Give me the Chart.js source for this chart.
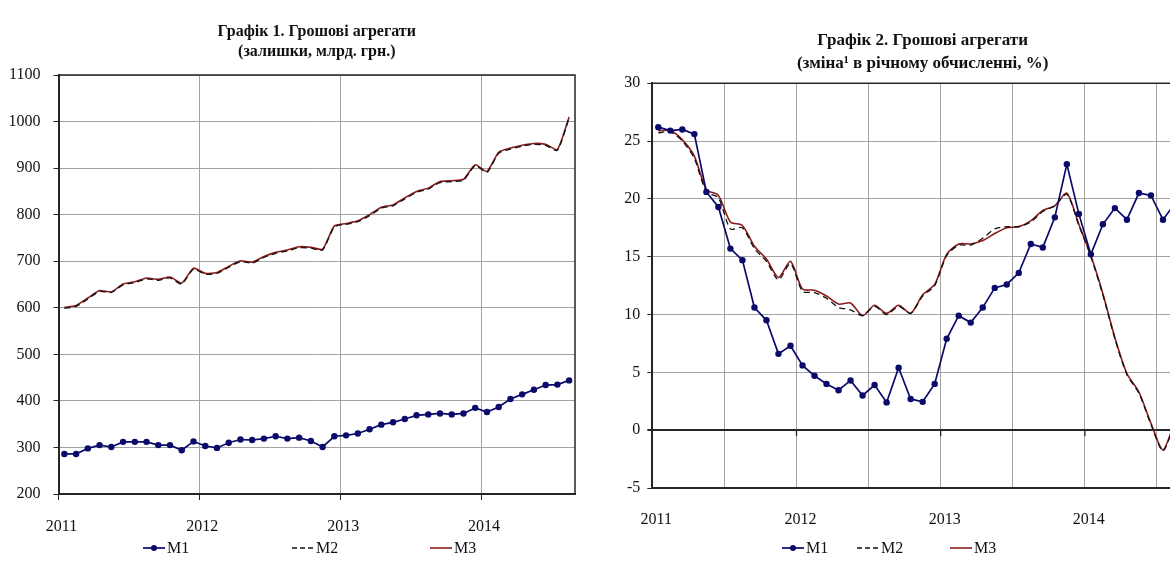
<!DOCTYPE html>
<html>
<head>
<meta charset="utf-8">
<script src="https://cdn.jsdelivr.net/npm/chart.js@4.4.1/dist/chart.umd.min.js"></script>
<style>
  html, body { margin: 0; padding: 0; background: #ffffff; overflow: hidden; width: 1170px; height: 577px; }
  #w1 { position: absolute; left: 0; top: 0; width: 590px; height: 577px; }
  #w2 { position: absolute; left: 590px; top: 0; width: 612px; height: 577px; }
</style>
</head>
<body>
<div id="w1"><canvas id="c1"></canvas></div>
<div id="w2"><canvas id="c2"></canvas></div>
<script>
// ---- categories: months from Jan 2011 to Aug 2014 ----
const firstYear = 2011;
const months = [];
for (let y = 2011; y <= 2014; y++) {
  for (let m = 1; m <= 12; m++) {
    if (y === 2014 && m > 8) break;
    months.push(y + '-' + String(m).padStart(2, '0'));
  }
}
const yearTicks = [2011, 2012, 2013, 2014];

// ---- Chart 1: stocks, bn UAH ----
const title1 = ['Графік 1. Грошові агрегати', '(залишки, млрд. грн.)'];
const stockM1 = [286,286,298,305,301,312,312,312,305,305,294,313,303,299,310,317,316,319,324,319,321,314,301,324,
                 326,330,339,349,354,361,369,371,373,371,373,385,376,387,404,414,424,434,435,444];
const stockM2 = [599,603,619,635,633,649,654,662,659,664,651,683,672,674,687,699,696,708,717,722,729,728,724,774,
                 779,785,798,814,819,834,848,855,869,871,874,905,891,932,941,947,951,949,938,1008];
const stockM3 = [601,605,621,637,634,651,656,664,661,666,653,685,674,676,689,701,698,710,719,724,731,730,726,776,
                 781,787,800,816,821,836,850,857,871,873,876,907,893,934,943,949,953,951,940,1010];
const yTicks1 = [200,300,400,500,600,700,800,900,1000,1100];

// ---- Chart 2: annual change, % ----
const title2 = ['Графік 2. Грошові агрегати', '(зміна¹ в річному обчисленні, %)'];
const growthM1 = [26.2,25.9,26.0,25.6,20.6,19.3,15.7,14.7,10.6,9.5,6.6,7.3,5.6,4.7,4.0,3.45,4.3,3.0,3.9,2.4,5.4,2.7,2.45,4.0,
                  7.9,9.9,9.3,10.6,12.3,12.6,13.6,16.1,15.8,18.4,23.0,18.7,15.2,17.8,19.2,18.2,20.5,20.3,18.2,19.6];
const growthM2 = [25.7,25.8,25.0,23.5,20.6,20.1,17.4,17.5,15.7,14.6,13.0,14.4,12.0,11.9,11.4,10.6,10.4,9.9,10.7,10.0,10.7,10.1,11.6,12.5,
                  15.1,16.0,16.0,16.6,17.4,17.6,17.6,18.0,18.9,19.4,20.4,17.7,15.0,11.7,7.9,4.8,3.2,0.5,-1.8,0.7];
const growthM3 = [25.9,25.9,25.1,23.7,20.8,20.3,18.0,17.7,15.9,14.8,13.2,14.6,12.2,12.1,11.6,10.9,11.0,9.9,10.8,10.1,10.8,10.1,11.7,12.6,
                  15.2,16.1,16.1,16.4,17.0,17.5,17.6,18.1,19.0,19.4,20.5,17.8,15.1,11.8,8.0,4.9,3.3,0.6,-1.7,0.8];
const yTicks2 = [-5,0,5,10,15,20,25,30];

const seriesNames = ['M1', 'M2', 'M3'];

// month string -> position on a continuous month axis (value plotted mid-month)
function monthPos(s) {
  const [y, m] = s.split('-').map(Number);
  return (y - firstYear) * 12 + (m - 1) + 0.5;
}
function pts(arr) { return arr.map((v, i) => ({ x: monthPos(months[i]), y: v })); }

const FONT = "'Liberation Serif', 'Times New Roman', serif";
const COL_M1 = '#0a0a6a';
const COL_M2 = '#111111';
const COL_M3 = '#8b1c1c';
const GRID = '#a3a3a3';
const AXIS = '#262626';

function makeDatasets(a1, a2, a3, tension) {
  return [
    { label: seriesNames[0], data: pts(a1), borderColor: COL_M1, backgroundColor: COL_M1, borderWidth: 1.7,
      pointRadius: 3.2, pointBorderWidth: 0, pointBackgroundColor: COL_M1, tension: 0 },
    { label: seriesNames[1], data: pts(a2), borderColor: COL_M2, borderWidth: 1.3, borderDash: [6, 4],
      pointRadius: 0, tension: tension },
    { label: seriesNames[2], data: pts(a3), borderColor: COL_M3, borderWidth: 1.6,
      pointRadius: 0, tension: tension }
  ];
}

// frame (top + right edges of plot area) and small ticks on the zero line
const framePlugin = {
  id: 'frame',
  afterDraw(chart, args, opts) {
    const { ctx, chartArea: a } = chart;
    ctx.save();
    ctx.strokeStyle = AXIS;
    ctx.lineWidth = 1.5;
    ctx.beginPath();
    ctx.moveTo(a.left, a.top);
    ctx.lineTo(a.right, a.top);
    ctx.lineTo(a.right, a.bottom);
    ctx.stroke();
    if (opts.zeroTicks) {
      const xs = chart.scales.x, ys = chart.scales.y;
      const y0 = ys.getPixelForValue(0);
      ctx.lineWidth = 1.3;
      opts.zeroTicks.forEach(v => {
        const px = xs.getPixelForValue(v);
        ctx.beginPath();
        ctx.moveTo(px, y0);
        ctx.lineTo(px, y0 + 6);
        ctx.stroke();
      });
    }
    ctx.restore();
  }
};

// legend drawn under the plot with Excel-like spacing
const legendPlugin = {
  id: 'bottomLegend',
  afterDraw(chart, args, opts) {
    const { ctx } = chart;
    ctx.save();
    ctx.font = '16px ' + FONT;
    ctx.textBaseline = 'middle';
    ctx.fillStyle = '#111';
    chart.data.datasets.forEach((ds, i) => {
      const x = opts.xs[i], y = opts.y, w = 22;
      ctx.strokeStyle = ds.borderColor;
      ctx.lineWidth = ds.borderWidth;
      ctx.setLineDash(ds.borderDash ? [5, 3] : []);
      ctx.beginPath();
      ctx.moveTo(x, y);
      ctx.lineTo(x + w, y);
      ctx.stroke();
      ctx.setLineDash([]);
      if (ds.pointRadius > 0) {
        ctx.fillStyle = ds.pointBackgroundColor;
        ctx.beginPath();
        ctx.arc(x + w / 2, y, 3, 0, Math.PI * 2);
        ctx.fill();
      }
      ctx.fillStyle = '#111';
      ctx.fillText(ds.label, x + w + 2, y + 1);
    });
    ctx.restore();
  }
};

Chart.defaults.font.family = FONT;
Chart.defaults.color = '#1a1a1a';
Chart.defaults.animation = false;

// ---------- Chart 1 ----------
new Chart(document.getElementById('c1'), {
  type: 'line',
  data: { datasets: makeDatasets(stockM1, stockM2, stockM3, 0.2) },
  options: {
    responsive: true, maintainAspectRatio: false,
    layout: { padding: { left: 0, right: 15, top: 0, bottom: 39 } },
    plugins: {
      legend: { display: false },
      tooltip: { enabled: false },
      title: { display: true, text: title1, fullSize: false, color: '#111',
               font: { size: 16, weight: 'bold', family: FONT, lineHeight: 1.25 },
               padding: { top: 22, bottom: 13 } },
      frame: {},
      bottomLegend: { y: 548, xs: [143, 292, 430] }
    },
    scales: {
      x: { type: 'linear', min: 0, max: 44,
           afterFit: s => { s.height = 44; },
           ticks: { stepSize: 12, includeBounds: false, autoSkip: false, maxRotation: 0,
                    font: { size: 16, family: FONT }, padding: 17, color: '#111', labelOffset: 3,
                    callback: v => (v % 12 === 0 ? String(firstYear + v / 12) : '') },
           grid: { color: GRID, lineWidth: 1, drawTicks: true, tickLength: 6, tickColor: AXIS },
           border: { display: true, color: AXIS, width: 2 } },
      y: { type: 'linear', min: yTicks1[0], max: yTicks1[yTicks1.length - 1],
           afterFit: s => { s.width = 58.5; },
           afterBuildTicks: s => { s.ticks = yTicks1.map(v => ({ value: v })); },
           ticks: { font: { size: 16, family: FONT }, padding: 13, color: '#111',
                    callback: v => String(v) },
           grid: { color: GRID, lineWidth: 1, drawTicks: true, tickLength: 5, tickColor: AXIS },
           border: { display: true, color: AXIS, width: 2 } }
    }
  },
  plugins: [framePlugin, legendPlugin]
});

// ---------- Chart 2 ----------
new Chart(document.getElementById('c2'), {
  type: 'line',
  data: { datasets: makeDatasets(growthM1, growthM2, growthM3, 0.25) },
  options: {
    responsive: true, maintainAspectRatio: false,
    layout: { padding: { left: 0, right: 9, top: 0, bottom: 48 } },
    plugins: {
      legend: { display: false },
      tooltip: { enabled: false },
      title: { display: true, text: title2, fullSize: false, color: '#111',
               font: { size: 17, weight: 'bold', family: FONT, lineHeight: 1.3 },
               padding: { top: 30, bottom: 9 } },
      frame: { zeroTicks: [12, 24, 36] },
      bottomLegend: { y: 548, xs: [192, 267, 360] }
    },
    scales: {
      x: { type: 'linear', min: 0, max: 45,
           afterFit: s => { s.height = 41; },
           ticks: { stepSize: 6, includeBounds: false, autoSkip: false, maxRotation: 0,
                    font: { size: 16, family: FONT }, padding: 22, color: '#111', labelOffset: 4,
                    callback: v => (v % 12 === 0 ? String(firstYear + v / 12) : '') },
           grid: { color: GRID, lineWidth: 1, drawTicks: false },
           border: { display: true, color: AXIS, width: 2 } },
      y: { type: 'linear', min: yTicks2[0], max: yTicks2[yTicks2.length - 1],
           afterFit: s => { s.width = 62.3; },
           afterBuildTicks: s => { s.ticks = yTicks2.map(v => ({ value: v })); },
           ticks: { font: { size: 16, family: FONT }, padding: 7, color: '#111',
                    callback: v => String(v) },
           grid: { color: c => (c.tick && c.tick.value === 0 ? AXIS : GRID),
                   lineWidth: c => (c.tick && c.tick.value === 0 ? 2 : 1),
                   drawTicks: true, tickLength: 5, tickColor: AXIS },
           border: { display: true, color: AXIS, width: 2 } }
    }
  },
  plugins: [framePlugin, legendPlugin]
});
</script>
</body>
</html>
